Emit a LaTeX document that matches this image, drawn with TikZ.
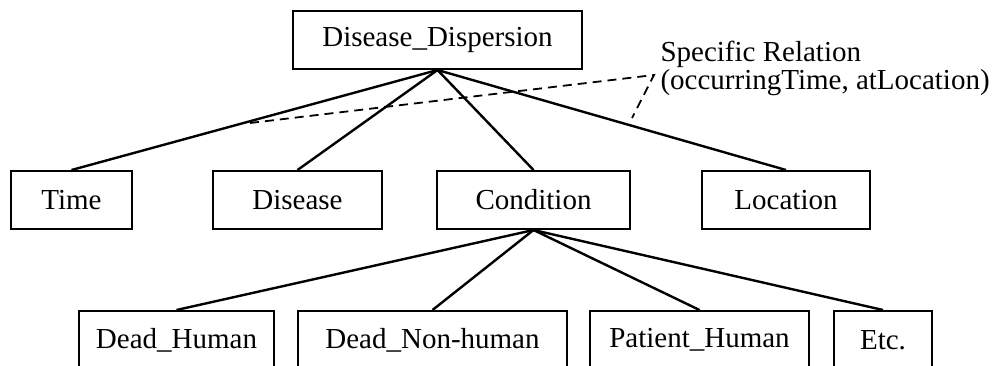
\documentclass[tikz,border=0pt]{standalone}
\usepackage{fontspec}
\setmainfont{Liberation Serif}

\begin{document}
\begin{tikzpicture}[x=1pt,y=-1pt]
        \tikzset{box/.style = {draw, line width=2pt, inner sep=0pt, minimum height=58pt,
                 font=\fontsize{29}{34}\selectfont},
                 link/.style = {line width=2.4pt},
                 rel/.style = {line width=1.8pt, dash pattern=on 9pt off 6pt}}
        \useasboundingbox (0,0) rectangle (1000,365);
        % root
        \node[box, minimum width=289pt] (disp) at (437.5,40) {Disease\_Dispersion};
        % first level
        \node[box, minimum width=121pt] (time) at (71.5,200) {Time};
        \node[box, minimum width=169pt] (dis) at (297.5,200) {Disease};
        \node[box, minimum width=193pt] (cond) at (533.5,200) {Condition};
        \node[box, minimum width=168pt] (loc) at (786,200) {Location};
        % second level
        \node[box, minimum width=195pt] (dhum) at (176.5,340) {Dead\_Human};
        \node[box, minimum width=269pt] (dnon) at (432.5,340) {Dead\_Non-human};
        \node[box, minimum width=219pt] (phum) at (699.5,340) {Patient\_Human};
        \node[box, minimum width=98pt] (etc) at (883,340) {Etc.};
        \foreach \n in {time,dis,cond,loc}
            \draw[link] (disp.south) -- (\n.north);
        \foreach \n in {dhum,dnon,phum,etc}
            \draw[link] (cond.south) -- (\n.north);
        % relation
        \node[anchor=west, align=left, font=\fontsize{29}{28}\selectfont] (relname) at (657,68)
            {Specific Relation\\(occurringTime, atLocation)};
        \coordinate (relA) at (250,123);
        \coordinate (relB) at (654,75);
        \coordinate (relC) at (632,118);
        \draw[rel] (relA) -- (relB) -- (relC);
    \end{tikzpicture}
\end{document}
